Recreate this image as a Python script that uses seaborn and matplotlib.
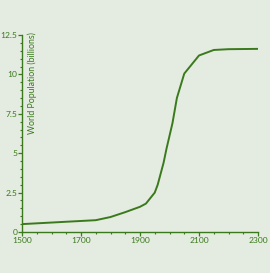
import matplotlib
matplotlib.use("Agg")
import matplotlib.pyplot as plt
import seaborn as sns
import pandas as pd
from matplotlib.ticker import MultipleLocator, FuncFormatter

years = [1500, 1750, 1800, 1850, 1900, 1920, 1950, 1960, 1970, 1980, 1990, 2000,
         2010, 2025, 2050, 2100, 2150, 2200, 2300]
population = [0.5, 0.75, 0.95, 1.26, 1.6, 1.8, 2.5, 3.0, 3.7, 4.4, 5.3, 6.1,
              6.9, 8.5, 10.05, 11.2, 11.55, 11.6, 11.62]
x_ticks = [1500, 1700, 1900, 2100, 2300]
y_ticks = [0, 2.5, 5, 7.5, 10, 12.5]
y_label = "World Population (billions)"

df = pd.DataFrame({"year": years, "pop": population})

sns.set_style("ticks")
plt.rcParams['font.family'] = ['Lato', 'DejaVu Sans']

bg = "#e4ebe0"
green = "#3a7a1c"

fig = plt.figure(figsize=(2.70, 2.73), dpi=100, facecolor=bg)
ax = fig.add_axes([22/270, 1-232/273, 236/270, 197/273])
ax.set_facecolor(bg)

sns.lineplot(data=df, x="year", y="pop", ax=ax, color=green, linewidth=1.4)

ax.set_xlim(1500, 2300)
ax.set_ylim(0, 12.5)
ax.set_xticks(x_ticks)
ax.set_yticks(y_ticks)
ax.xaxis.set_minor_locator(MultipleLocator(50))
ax.yaxis.set_minor_locator(MultipleLocator(0.5))
ax.yaxis.set_major_formatter(FuncFormatter(lambda v, p: f"{v:g}"))
ax.set_xlabel("")
ax.set_ylabel("")

for s in ["top", "right"]:
    ax.spines[s].set_visible(False)
for s in ["left", "bottom"]:
    ax.spines[s].set_color(green)
    ax.spines[s].set_linewidth(1.0)

ax.tick_params(axis="both", which="major", colors=green, labelcolor=green,
               length=2.8, width=0.9, labelsize=6.1, pad=0.4)
ax.tick_params(axis="x", which="major", pad=1.0)
ax.tick_params(axis="both", which="minor", colors=green, length=1.5, width=0.8)

ax.text(0.022, 1.015, y_label, transform=ax.transAxes, rotation=90,
        ha="left", va="top", color=green, fontsize=6.3)

fig.savefig("out.png", dpi=100, facecolor=bg)
